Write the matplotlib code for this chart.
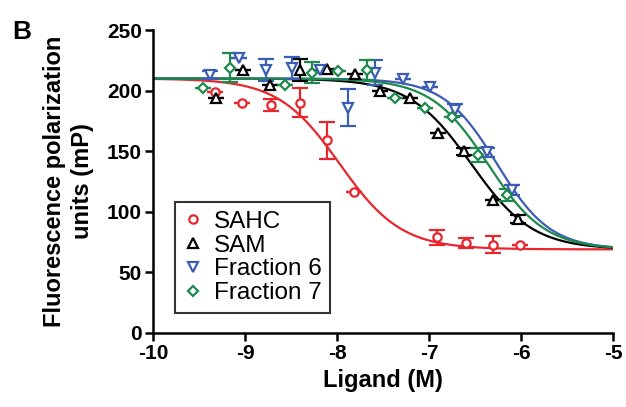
import numpy as np
import matplotlib
matplotlib.use("Agg")
import matplotlib.pyplot as plt

plt.rcParams['font.family'] = ['Liberation Sans', 'DejaVu Sans']
plt.rcParams['axes.unicode_minus'] = False

# measured points: log10 [ligand], mP, SEM
sahc_x = [-9.33, -9.03, -8.72, -8.40, -8.11, -7.82, -6.91, -6.60, -6.30, -6.01]
sahc_y = [199, 190, 188, 190, 159, 116, 79, 74, 73, 73]
sahc_e = [0, 0, 5, 12, 15, 0, 6, 4, 7, 0]

sam_x = [-9.32, -9.02, -8.73, -8.40, -8.11, -7.80, -7.53, -7.21, -6.90, -6.62, -6.30, -6.03]
sam_y = [194, 217, 205, 217, 218, 214, 200, 194, 165, 150, 110, 94]
sam_e = [0, 0, 0, 9, 0, 0, 0, 0, 0, 3, 0, 3]

f6_x = [-9.38, -9.07, -8.77, -8.49, -8.18, -7.88, -7.59, -7.28, -6.99, -6.72, -6.37, -6.10]
f6_y = [213, 227, 217, 219, 217, 186, 215, 210, 203, 184, 149, 118]
f6_e = [3, 0, 9, 9, 0, 15, 10, 0, 0, 5, 4, 4]

f7_x = [-9.46, -9.16, -8.57, -8.27, -7.99, -7.67, -7.37, -7.04, -6.75, -6.47, -6.15]
f7_y = [202, 219, 205, 215, 216, 217, 194, 186, 178, 147, 114]
f7_e = [0, 12, 0, 9, 0, 8, 0, 0, 0, 6, 5]

# fitted dose-response parameters: logIC50, hill slope
names = ["SAHC", "SAM", "Fraction 6", "Fraction 7"]
log_ic50 = [-7.97, -6.54, -6.26, -6.36]
hill = [1.3, 1.3, 1.5, 1.4]
top = 210
bottom = 69

colors = ["#E8262E", "black", "#3B5DB3", "#1D8A4C"]
markers = ["o", "^", "v", "D"]
msizes = [6, 7, 7, 5.5]
xs = [sahc_x, sam_x, f6_x, f7_x]
ys = [sahc_y, sam_y, f6_y, f7_y]
es = [sahc_e, sam_e, f6_e, f7_e]

fig = plt.figure(figsize=(6.26, 4.07), dpi=100)
ax = fig.add_axes([0.2444, 0.182, 0.7348, 0.744])

xx = np.linspace(-10, -5, 400)
handles = []
for i in range(4):
    curve = bottom + (top - bottom) / (1 + 10 ** ((xx - log_ic50[i]) * hill[i]))
    ax.plot(xx, curve, color=colors[i], lw=1.6, zorder=2)
    e = np.array(es[i], dtype=float)
    ax.errorbar(xs[i], ys[i], yerr=e, fmt='none', ecolor=colors[i],
                elinewidth=1.6, capsize=5.5, capthick=1.6, zorder=3)
    h, = ax.plot(xs[i], ys[i], linestyle='none', marker=markers[i],
                 markersize=msizes[i], markerfacecolor='white',
                 markeredgecolor=colors[i], markeredgewidth=1.6,
                 label=names[i], zorder=4)
    handles.append(h)

ax.set_xlim(-10, -5)
ax.set_ylim(0, 250)
ax.set_xticks([-10, -9, -8, -7, -6, -5])
ax.set_yticks([0, 50, 100, 150, 200, 250])
for s in ['top', 'right']:
    ax.spines[s].set_visible(False)
for s in ['left', 'bottom']:
    ax.spines[s].set_linewidth(1.8)
ax.tick_params(width=1.8, length=6, labelsize=15, pad=2)
for lab in ax.get_xticklabels() + ax.get_yticklabels():
    lab.set_fontweight('bold')

ax.set_xlabel("Ligand (M)", fontsize=17, fontweight='bold', labelpad=4)
ax.set_ylabel("Fluorescence polarization\nunits (mP)", fontsize=17,
              fontweight='bold', labelpad=9, linespacing=1.3)

leg = ax.legend(handles=handles, loc='lower left', bbox_to_anchor=(0.048, 0.066),
                borderaxespad=0, fontsize=17.5, frameon=True, fancybox=False,
                handlelength=0.8, handletextpad=0.45, labelspacing=0.08,
                borderpad=0.35)
leg.get_frame().set_edgecolor('black')
leg.get_frame().set_linewidth(1.5)

fig.text(0.019, 0.905, "B", fontsize=19, fontweight='bold')

fig.savefig("out.png", dpi=100)
